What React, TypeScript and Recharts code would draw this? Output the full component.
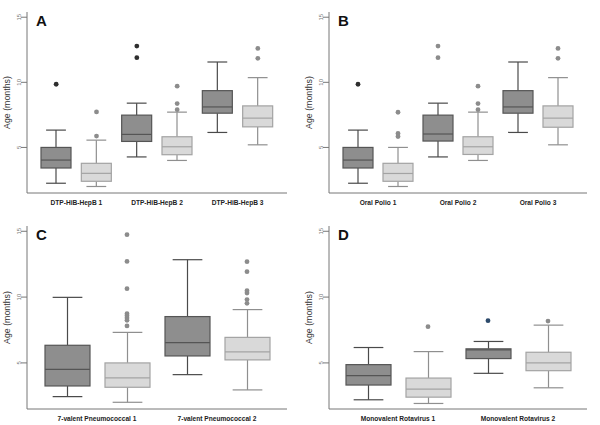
import React from 'react';
import { ComposedChart, Bar, Scatter, XAxis, YAxis } from 'recharts';

// box order in every panel: dark 1, light 1, dark 2, light 2, ...
// A: DTP-HiB-HepB
const aGroups = ['DTP-HiB-HepB 1', 'DTP-HiB-HepB 2', 'DTP-HiB-HepB 3'];
const aLow = [2.25, 2.0, 4.27, 4.0, 6.15, 5.2];
const aQ1 = [3.42, 2.4, 5.46, 4.44, 7.63, 6.58];
const aMed = [4.03, 3.01, 6.0, 5.05, 8.11, 7.25];
const aQ3 = [5.0, 3.78, 7.48, 5.82, 9.36, 8.19];
const aHigh = [6.33, 5.56, 8.4, 7.71, 11.56, 10.36];
const aOut = [[9.85], [7.73, 5.87], [12.78, 11.89], [9.7, 8.37, 7.9], [], [12.6, 11.84]];

// B: Oral Polio
const bGroups = ['Oral Polio 1', 'Oral Polio 2', 'Oral Polio 3'];
const bLow = [2.25, 2.0, 4.27, 4.0, 6.15, 5.2];
const bQ1 = [3.42, 2.4, 5.49, 4.46, 7.63, 6.55];
const bMed = [4.03, 3.0, 6.03, 5.05, 8.11, 7.25];
const bQ3 = [5.0, 3.78, 7.48, 5.82, 9.36, 8.19];
const bHigh = [6.33, 5.0, 8.4, 7.71, 11.56, 10.36];
const bOut = [[9.85], [7.7, 6.07, 5.84], [12.78, 11.89], [9.7, 8.37, 7.9], [], [12.6, 11.84]];

// C: 7-valent Pneumococcal
const cGroups = ['7-valent Pneumococcal 1', '7-valent Pneumococcal 2'];
const cLow = [2.44, 2.01, 4.11, 2.95];
const cQ1 = [3.25, 3.15, 5.53, 5.23];
const cMed = [4.51, 3.86, 6.54, 5.84];
const cQ3 = [6.34, 5.0, 8.52, 6.94];
const cHigh = [9.98, 7.32, 12.84, 9.05];
const cOut = [[], [14.74, 12.71, 10.64, 8.74, 8.59, 8.42, 8.24, 7.81], [], [12.69, 11.93, 10.49, 10.31, 9.81, 9.53]];

// D: Monovalent Rotavirus
const dGroups = ['Monovalent Rotavirus 1', 'Monovalent Rotavirus 2'];
const dLow = [2.2, 1.92, 4.21, 3.11];
const dQ1 = [3.32, 2.4, 5.33, 4.41];
const dMed = [4.03, 3.01, 5.99, 5.0];
const dQ3 = [4.87, 3.85, 6.07, 5.81];
const dHigh = [6.17, 5.86, 6.63, 7.87];
const dOut = [[], [7.75], [8.21], [8.18]];

const yTicks = [5, 10, 15];
const yDomain: [number, number] = [1.5, 15.4];

const COLORS = {
  dark: { fill: '#8e8e8e', stroke: '#555555', whisker: '#4a4a4a', dot: '#2e2e2e' },
  light: { fill: '#d9d9d9', stroke: '#a3a3a3', whisker: '#8f8f8f', dot: '#8c8c8c' },
};
// a couple of outlier groups are drawn in a different tint in the original
const dotTint: Record<string, string> = { B2: '#8c8c8c', D2: '#2d4a6b' };

const FONT = "Arial, 'Liberation Sans', sans-serif";

type Kind = 'dark' | 'light';

interface BoxRow {
  id: string;
  kind: Kind;
  low: number;
  q1: number;
  med: number;
  q3: number;
  high: number;
  range: [number, number];
  out: number[];
  dotColor: string;
}

function buildRows(panel: string, low: number[], q1: number[], med: number[], q3: number[], high: number[], out: number[][]): BoxRow[] {
  return low.map((_, i) => {
    const kind: Kind = i % 2 === 0 ? 'dark' : 'light';
    return {
      id: `${panel}${i}`,
      kind,
      low: low[i],
      q1: q1[i],
      med: med[i],
      q3: q3[i],
      high: high[i],
      range: [low[i], high[i]],
      out: out[i],
      dotColor: dotTint[`${panel}${i}`] ?? COLORS[kind].dot,
    };
  });
}

const BoxShape = (props: any) => {
  const { x, y, width, height, payload } = props;
  if (!payload || !isFinite(x) || !isFinite(y)) return null;
  const { low, high, q1, med, q3, kind } = payload as BoxRow;
  const c = COLORS[kind as Kind];
  const top = Math.min(y, y + height);
  const k = Math.abs(height) / (high - low);
  const py = (v: number) => top + (high - v) * k;
  const cx = x + width / 2;
  const cap = width * 0.66;
  return (
    <g>
      <line x1={cx} x2={cx} y1={py(high)} y2={py(q3)} stroke={c.whisker} strokeWidth={1.2} />
      <line x1={cx} x2={cx} y1={py(q1)} y2={py(low)} stroke={c.whisker} strokeWidth={1.2} />
      <line x1={cx - cap / 2} x2={cx + cap / 2} y1={py(high)} y2={py(high)} stroke={c.whisker} strokeWidth={1.2} />
      <line x1={cx - cap / 2} x2={cx + cap / 2} y1={py(low)} y2={py(low)} stroke={c.whisker} strokeWidth={1.2} />
      <rect x={x} y={py(q3)} width={width} height={py(q1) - py(q3)} fill={c.fill} stroke={c.stroke} strokeWidth={1.2} />
      <line x1={x} x2={x + width} y1={py(med)} y2={py(med)} stroke={c.stroke} strokeWidth={1.2} />
    </g>
  );
};

const OutlierDot = (props: any) => {
  const { cx, cy, payload } = props;
  if (!isFinite(cx) || !isFinite(cy)) return null;
  return <circle cx={cx} cy={cy} r={2.4} fill={payload.dotColor} />;
};

interface PanelProps {
  letter: string;
  groups: string[];
  rows: BoxRow[];
  height: number;
  top: number;
  axisWidth: number;
  barSize: number;
  pad: number;
}

const Panel: React.FC<PanelProps> = ({ letter, groups, rows, height, top, axisWidth, barSize, pad }) => {
  const maxOut = Math.max(...rows.map((r) => r.out.length));
  const xHeight = height === 210 ? 17 : 16;
  const plotMid = top + (height - top - xHeight) / 2;

  const GroupTick = (props: any) => {
    const { x, y, payload } = props;
    if (payload.index % 2 !== 0) return <g />;
    const half = payload.offset ?? barSize;
    return (
      <text x={x + half} y={y + 3.5} textAnchor="middle" fontSize={6.6} fontWeight="bold" fill="#222" fontFamily={FONT}>
        {groups[payload.index / 2]}
      </text>
    );
  };

  return (
    <ComposedChart width={300} height={height} data={rows} margin={{ top, right: 13, bottom: 0, left: 0 }}>
      <XAxis
        dataKey="id"
        allowDuplicatedCategory={false}
        height={xHeight}
        padding={{ left: pad, right: pad }}
        stroke="#777"
        tickLine={false}
        tick={GroupTick}
      />
      <YAxis
        domain={yDomain}
        allowDataOverflow
        ticks={yTicks}
        width={axisWidth}
        stroke="#777"
        tick={{ fontSize: 6, fill: '#777', angle: -90, textAnchor: 'middle', fontFamily: FONT }}
      />
      <Bar dataKey="range" barSize={barSize} shape={BoxShape} isAnimationActive={false} />
      {Array.from({ length: maxOut }, (_, j) => (
        <Scatter
          key={j}
          dataKey={(r: BoxRow) => r.out[j]}
          shape={OutlierDot}
          isAnimationActive={false}
        />
      ))}
      <text x={axisWidth - 17} y={plotMid} transform={`rotate(-90, ${axisWidth - 17}, ${plotMid})`} textAnchor="middle" fontSize={8.8} fill="#333" fontFamily={FONT}>
        Age (months)
      </text>
      <text x={axisWidth + 9} y={top + 14} fontSize={15} fontWeight="bold" fill="#111" fontFamily={FONT}>
        {letter}
      </text>
    </ComposedChart>
  );
};

const rowsA = buildRows('A', aLow, aQ1, aMed, aQ3, aHigh, aOut);
const rowsB = buildRows('B', bLow, bQ1, bMed, bQ3, bHigh, bOut);
const rowsC = buildRows('C', cLow, cQ1, cMed, cQ3, cHigh, cOut);
const rowsD = buildRows('D', dLow, dQ1, dMed, dQ3, dHigh, dOut);

export default function App() {
  return (
    <div style={{ position: 'absolute', left: 0, top: 0, width: 600, height: 425, background: '#fff', display: 'flex', flexWrap: 'wrap' }}>
      <Panel letter="A" groups={aGroups} rows={rowsA} height={210} top={12} axisWidth={27} barSize={30} pad={9} />
      <Panel letter="B" groups={bGroups} rows={rowsB} height={210} top={12} axisWidth={29} barSize={30} pad={9} />
      <Panel letter="C" groups={cGroups} rows={rowsC} height={215} top={16} axisWidth={27} barSize={45} pad={10} />
      <Panel letter="D" groups={dGroups} rows={rowsD} height={215} top={16} axisWidth={29} barSize={45} pad={9} />
    </div>
  );
}
